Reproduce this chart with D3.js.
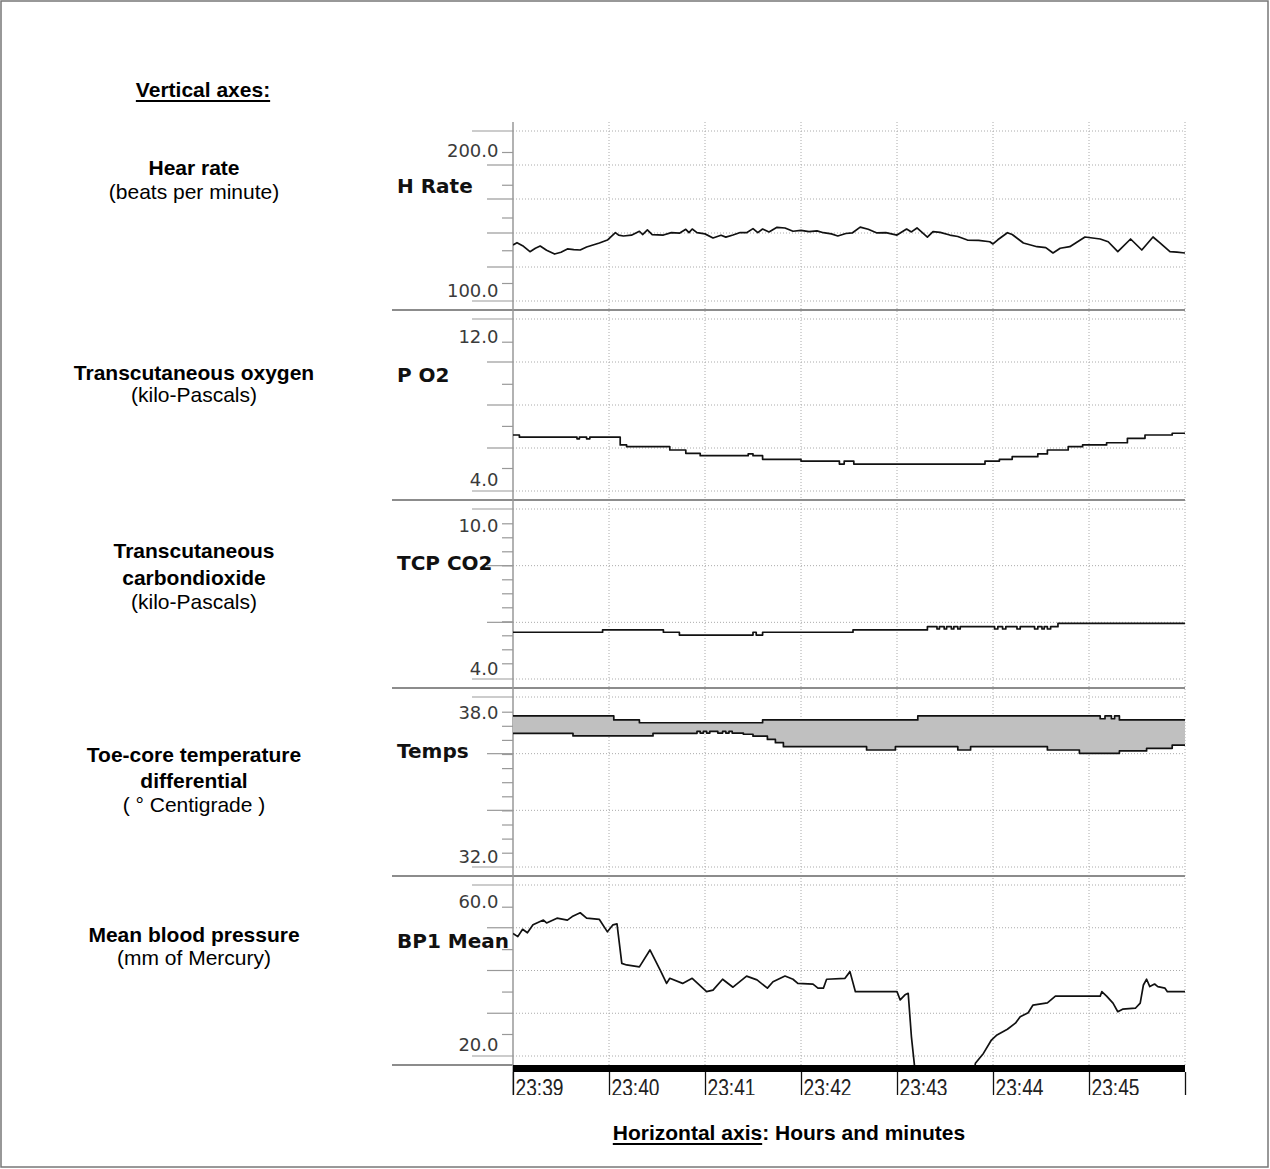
<!DOCTYPE html>
<html>
<head>
<meta charset="utf-8">
<script src="https://cdn.jsdelivr.net/npm/d3@7"></script>
<style>
  body { margin: 0; background: #fff; }
  svg { display: block; }
</style>
</head>
<body>
<div id="chart"></div>
<script>
const width = 1270;
const height = 1169;

// ---- data (time in seconds after 23:39:00) ----
const minuteLabels = ["23:39", "23:40", "23:41", "23:42", "23:43", "23:44", "23:45", ""];

const panelNames = ["H Rate", "P O2", "TCP CO2", "Temps", "BP1 Mean"];
const axisTop = [200, 12, 10, 38, 60];
const axisBottom = [100, 4, 4, 32, 20];
const minorSteps = [4, 3, 10, 10, 3];
const gridCount = [6, 5, 4, 4, 5];

const heartRate = [
  [0, 129.0], [2.5, 130.8], [6, 128.5], [10.6, 123.9], [14, 126.5], [17, 128.2], [21, 125], [26, 122.1],
  [30, 123.5], [34, 126.0], [38, 125.5], [42, 125.2], [46, 127.5], [50, 129.0], [54, 130.5], [59, 132.8],
  [64, 138.4], [66, 136.5], [69, 135.9], [74, 136.5], [79, 139.5], [81, 137], [84, 140.5], [87, 137],
  [94, 136.6], [99, 138.5], [104, 138.0], [108, 141.0], [110, 138.5], [112, 141.2], [115, 138.5],
  [120, 137.5], [125, 134.4], [130, 136.5], [133, 135], [137.5, 136.6], [142, 138.5], [146, 138.4],
  [150, 141.5], [153, 138.5], [156, 141.2], [160, 139], [165, 142.5], [170, 142.0], [175, 139.5],
  [180, 140.2], [185, 139.2], [190, 139.8], [194, 138.4], [199, 137.5], [203, 135.9], [208, 137.8],
  [212, 138.2], [217, 142.7], [222, 141], [227.5, 138.2], [233, 138.5], [240, 136.6], [246, 141.2],
  [249, 139], [252.5, 142.0], [259, 135.1], [262.5, 139.2], [267, 138.6], [273, 136.6], [278, 135.5],
  [284, 132.8], [291, 132.5], [298, 131.5], [300, 129.8], [303, 133], [309, 138.4], [312, 137],
  [319, 130.5], [327.5, 127.7], [333, 127], [337.5, 122.9], [342, 126.5], [348, 127.7], [357.5, 135.1],
  [367, 133.6], [372, 131.5], [378, 123.9], [386, 133.6], [393, 125.2], [400, 135.1], [404, 131],
  [410.6, 123.9], [415, 123.5], [420, 122.9]
];

const pO2 = [
  [0, 6.09], [4, 5.95], [40, 5.85], [41.5, 5.95], [46, 5.85], [48, 5.95], [67, 5.46], [71, 5.35],
  [98, 5.14], [108, 4.93], [117, 4.78], [147, 4.9], [150, 4.78], [156, 4.55], [180, 4.44],
  [204, 4.25], [207, 4.44], [213, 4.25], [295, 4.44], [304, 4.55], [312, 4.72], [328, 4.89],
  [334, 5.14], [347, 5.35], [356, 5.46], [371, 5.60], [384, 5.88], [395, 6.09], [412, 6.20], [420, 6.20]
];

const tcpCO2 = [
  [0, 5.33], [56, 5.43], [94, 5.33], [104, 5.21], [150, 5.33], [152, 5.21], [156, 5.33], [212.5, 5.43],
  [259, 5.57], [265, 5.47], [266.5, 5.57], [269.5, 5.47], [271, 5.57], [274, 5.47], [275.5, 5.57],
  [278, 5.47], [279.5, 5.57], [301, 5.47], [303, 5.57], [306, 5.47], [308, 5.57], [315, 5.47],
  [317, 5.57], [326, 5.47], [328, 5.57], [330.6, 5.47], [332, 5.57], [334, 5.47], [336, 5.57],
  [340.6, 5.71], [420, 5.71]
];

const tempTimes = [0, 37.5, 63, 79, 87.5, 115, 117, 119, 121, 123, 128, 131, 133, 135, 137, 144, 150,
  156, 159, 164, 169, 221, 239, 253, 278, 286, 334, 354, 367, 370, 374, 376, 379, 396, 412, 420];
const tempUpper = [37.82, 37.82, 37.65, 37.53, 37.53, 37.53, 37.53, 37.53, 37.53, 37.53, 37.53, 37.53,
  37.53, 37.53, 37.53, 37.53, 37.53, 37.65, 37.65, 37.65, 37.65, 37.65, 37.65, 37.82, 37.82, 37.82,
  37.82, 37.82, 37.7, 37.82, 37.7, 37.82, 37.65, 37.65, 37.65, 37.65];
const tempLower = [37.08, 36.97, 36.97, 36.97, 37.08, 37.16, 37.09, 37.16, 37.09, 37.16, 37.09, 37.16,
  37.09, 37.16, 37.09, 37.04, 36.96, 36.96, 36.82, 36.68, 36.51, 36.37, 36.51, 36.51, 36.37, 36.51,
  36.37, 36.23, 36.23, 36.23, 36.23, 36.23, 36.33, 36.44, 36.58, 36.58];

const bpMean = [
  [0, 51.6], [3, 50.6], [6, 52.9], [9, 51.8], [12.5, 54.3], [19, 55.8], [21, 54.9], [27.5, 56.4],
  [34, 55.8], [37, 56.9], [42, 58.1], [46, 56.4], [54, 56.0], [59, 52.1], [62.5, 54.3], [65, 54.6],
  [68, 42.2], [71, 41.7], [79, 41.1], [85.6, 46.4], [92, 40.1], [96, 35.9], [98, 37.5], [106, 35.9],
  [112, 37.5], [121, 33.3], [125, 33.8], [131, 37.2], [137.5, 34.7], [146, 38.2], [152.5, 37.0],
  [159, 34.4], [162.5, 36.4], [170, 38.2], [175, 37.2], [178, 35.9], [187.5, 35.7], [190.6, 34.4],
  [194, 34.4], [196, 37.2], [207.5, 37.5], [210.6, 39.6], [214, 33.3], [240, 33.3], [242, 30.7],
  [245, 32.3], [247, 32.8], [249, 19.2], [252, 5], [287, 5], [289, 10.8], [294, 13.9], [299, 18.1],
  [302.5, 19.7], [309, 21.5], [314, 23.4], [317, 25.4], [322, 26.7], [325, 29.1], [334, 29.8],
  [339, 31.9], [367, 31.9], [368, 33.3], [371, 31.9], [375, 29.7], [378, 27.0], [381, 27.8],
  [389, 28.1], [392, 29.7], [394, 35.4], [396, 37.2], [398, 34.9], [401, 35.7], [403, 34.9],
  [407.5, 34.4], [409, 33.3], [420, 33.3]
];

const descriptions = [
  { lines: [["Hear rate", true], ["(beats per minute)", false]], y: [175, 199] },
  { lines: [["Transcutaneous oxygen", true], ["(kilo-Pascals)", false]], y: [380, 402] },
  { lines: [["Transcutaneous", true], ["carbondioxide", true], ["(kilo-Pascals)", false]], y: [558, 585, 609] },
  { lines: [["Toe-core temperature", true], ["differential", true], ["( \u00b0 Centigrade )", false]], y: [762, 788, 812] },
  { lines: [["Mean blood pressure", true], ["(mm of Mercury)", false]], y: [942, 965] }
];

// ---- layout ----
const plotLeft = 513, plotRight = 1185;
const barTop = 1065, barBottom = 1072, axisEnd = 1095;
const layout = [
  { top: 122, bottom: 310, range: [152, 283],     labelDy: [-2, 7],  nameY: 193 },
  { top: 310, bottom: 500, range: [341.7, 468],   labelDy: [-5, 11], nameY: 382 },
  { top: 500, bottom: 688, range: [523.3, 663.3], labelDy: [2, 5],   nameY: 570 },
  { top: 688, bottom: 876, range: [711.7, 852.7], labelDy: [1, 4],   nameY: 758 },
  { top: 876, bottom: 1065, range: [906.7, 1034], labelDy: [-5, 10], nameY: 948 }
];

const chartFont = "'DejaVu Sans', Verdana, sans-serif";
const noteFont = "'Liberation Sans', Arial, Helvetica, sans-serif";

const base = new Date(2000, 0, 1, 23, 39, 0);
const toTime = s => new Date(base.getTime() + s * 1000);

const x = d3.scaleTime()
  .domain([base, toTime(420)])
  .range([plotLeft, plotRight]);

const svg = d3.select("#chart")
  .append("svg")
  .attr("width", width)
  .attr("height", height);

svg.append("rect")
  .attr("x", 1).attr("y", 1)
  .attr("width", width - 3).attr("height", height - 3)
  .attr("fill", "none")
  .attr("stroke", "#777")
  .attr("stroke-width", 1.5);

const defs = svg.append("defs");

// vertical dotted minute grid
const minuteTicks = d3.range(0, 8).map(m => toTime(m * 60));
svg.append("g")
  .selectAll("line")
  .data(minuteTicks.slice(1))
  .join("line")
  .attr("x1", d => x(d)).attr("x2", d => x(d))
  .attr("y1", layout[0].top).attr("y2", barTop)
  .attr("stroke", "#aaa")
  .attr("stroke-dasharray", "1,2");

const scales = [];

layout.forEach((p, i) => {
  const y = d3.scaleLinear().domain([axisTop[i], axisBottom[i]]).range(p.range);
  scales.push(y);

  // horizontal dotted grid + long ticks
  const n = gridCount[i];
  const g0 = p.top + 9, g1 = p.bottom - 9;
  const gridYs = d3.range(n).map(k => g0 + (g1 - g0) * k / (n - 1));
  const grid = svg.append("g");
  grid.selectAll("line.grid")
    .data(gridYs)
    .join("line")
    .attr("class", "grid")
    .attr("x1", plotLeft).attr("x2", plotRight)
    .attr("y1", d => d).attr("y2", d => d)
    .attr("stroke", "#aaa")
    .attr("stroke-dasharray", "1,2");
  grid.selectAll("line.long")
    .data(gridYs)
    .join("line")
    .attr("class", "long")
    .attr("x1", (d, k) => (k === 0 || k === n - 1) ? 472 : 487)
    .attr("x2", plotLeft)
    .attr("y1", d => d).attr("y2", d => d)
    .attr("stroke", "#999")
    .attr("stroke-width", 1.2);

  // short ticks through a d3 axis
  const tickVals = d3.range(minorSteps[i] + 1)
    .map(k => axisTop[i] + (axisBottom[i] - axisTop[i]) * k / minorSteps[i]);
  const ax = svg.append("g")
    .attr("transform", `translate(${plotLeft},0)`)
    .call(d3.axisLeft(y).tickValues(tickVals).tickSize(11).tickFormat(""));
  ax.select(".domain").remove();
  ax.selectAll("line").attr("stroke", "#999").attr("stroke-width", 1.2);

  // value labels
  const fmt = d3.format(".1f");
  [axisTop[i], axisBottom[i]].forEach((v, k) => {
    svg.append("text")
      .attr("x", 498.5)
      .attr("y", y(v) + p.labelDy[k] + 6.5)
      .attr("text-anchor", "end")
      .attr("font-family", chartFont)
      .attr("font-size", 18)
      .attr("fill", "#3a3a3a")
      .text(fmt(v));
  });

  // panel name
  svg.append("text")
    .attr("x", 397)
    .attr("y", p.nameY)
    .attr("font-family", chartFont)
    .attr("font-weight", "bold")
    .attr("font-size", 20)
    .attr("fill", "#111")
    .text(panelNames[i]);

  // separator
  svg.append("line")
    .attr("x1", 392).attr("x2", i < layout.length - 1 ? plotRight : plotLeft)
    .attr("y1", p.bottom).attr("y2", p.bottom)
    .attr("stroke", "#8c8c8c")
    .attr("stroke-width", 2);

  defs.append("clipPath")
    .attr("id", "clip" + i)
    .append("rect")
    .attr("x", plotLeft).attr("y", p.top)
    .attr("width", plotRight - plotLeft).attr("height", p.bottom - p.top);
});

// left axis line
svg.append("line")
  .attr("x1", plotLeft).attr("x2", plotLeft)
  .attr("y1", layout[0].top).attr("y2", axisEnd)
  .attr("stroke", "#999")
  .attr("stroke-width", 1.5);

function drawTrace(data, i, curve) {
  const line = d3.line()
    .x(d => x(toTime(d[0])))
    .y(d => scales[i](d[1]))
    .curve(curve);
  svg.append("path")
    .datum(data)
    .attr("clip-path", `url(#clip${i})`)
    .attr("d", line)
    .attr("fill", "none")
    .attr("stroke", "#111")
    .attr("stroke-width", 1.7)
    .attr("stroke-linejoin", "round");
}

drawTrace(heartRate, 0, d3.curveLinear);
drawTrace(pO2, 1, d3.curveStepAfter);
drawTrace(tcpCO2, 2, d3.curveStepAfter);

// temperatures: shaded band between toe and core
const temps = tempTimes.map((t, k) => ({ t, hi: tempUpper[k], lo: tempLower[k] }));
const yT = scales[3];
svg.append("path")
  .datum(temps)
  .attr("clip-path", "url(#clip3)")
  .attr("d", d3.area()
    .x(d => x(toTime(d.t)))
    .y0(d => yT(d.lo))
    .y1(d => yT(d.hi))
    .curve(d3.curveStepAfter))
  .attr("fill", "#c0c0c0");
drawTrace(temps.map(d => [d.t, d.hi]), 3, d3.curveStepAfter);
drawTrace(temps.map(d => [d.t, d.lo]), 3, d3.curveStepAfter);

drawTrace(bpMean, 4, d3.curveLinear);

// black time bar
svg.append("rect")
  .attr("x", plotLeft).attr("y", barTop)
  .attr("width", plotRight - plotLeft).attr("height", barBottom - barTop)
  .attr("fill", "#000");

// time axis
defs.append("clipPath")
  .attr("id", "clipTime")
  .append("rect")
  .attr("x", plotLeft - 5).attr("y", -5)
  .attr("width", plotRight - plotLeft + 10).attr("height", axisEnd - barBottom + 5);

const xAxis = svg.append("g")
  .attr("transform", `translate(0,${barBottom})`)
  .attr("clip-path", "url(#clipTime)")
  .call(d3.axisBottom(x)
    .tickValues(minuteTicks)
    .tickSize(axisEnd - barBottom)
    .tickFormat((d, k) => minuteLabels[k]));
xAxis.select(".domain").remove();
xAxis.selectAll("line").attr("stroke", "#111").attr("stroke-width", 1.3);
xAxis.selectAll("text")
  .attr("text-anchor", "start")
  .attr("x", 2)
  .attr("y", axisEnd - barBottom + 0.5)
  .attr("dy", 0)
  .attr("font-family", noteFont)
  .attr("font-size", 23)
  .attr("fill", "#222")
  .filter(function () { return this.textContent !== ""; })
  .attr("textLength", 48)
  .attr("lengthAdjust", "spacingAndGlyphs");

// ---- notes on the left ----
const heading = svg.append("text")
  .attr("x", 203).attr("y", 97)
  .attr("text-anchor", "middle")
  .attr("font-family", noteFont)
  .attr("font-weight", "bold")
  .attr("font-size", 21)
  .attr("fill", "#000")
  .text("Vertical axes:");
const hw = heading.node().getComputedTextLength();
svg.append("line")
  .attr("x1", 203 - hw / 2).attr("x2", 203 + hw / 2)
  .attr("y1", 101).attr("y2", 101)
  .attr("stroke", "#000").attr("stroke-width", 2);

descriptions.forEach(d => {
  d.lines.forEach((ln, k) => {
    svg.append("text")
      .attr("x", 194)
      .attr("y", d.y[k])
      .attr("text-anchor", "middle")
      .attr("font-family", noteFont)
      .attr("font-weight", ln[1] ? "bold" : "normal")
      .attr("font-size", 21)
      .attr("fill", "#000")
      .text(ln[0]);
  });
});

// ---- horizontal axis note ----
const hTitle = svg.append("g");
const partA = hTitle.append("text")
  .attr("y", 1140)
  .attr("font-family", noteFont)
  .attr("font-weight", "bold")
  .attr("font-size", 21)
  .text("Horizontal axis");
const partB = hTitle.append("text")
  .attr("y", 1140)
  .attr("font-family", noteFont)
  .attr("font-weight", "bold")
  .attr("font-size", 21)
  .text(": Hours and minutes");
const wa = partA.node().getComputedTextLength();
const wb = partB.node().getComputedTextLength();
const startX = 789 - (wa + wb) / 2;
partA.attr("x", startX);
partB.attr("x", startX + wa);
hTitle.append("line")
  .attr("x1", startX).attr("x2", startX + wa)
  .attr("y1", 1144).attr("y2", 1144)
  .attr("stroke", "#000").attr("stroke-width", 2);
</script>
</body>
</html>
